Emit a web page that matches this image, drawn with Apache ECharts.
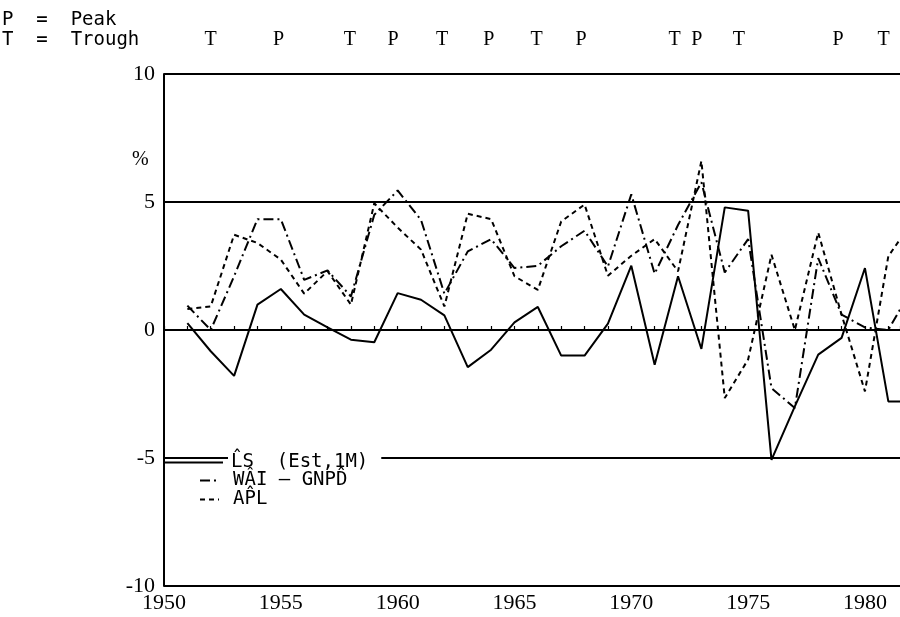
<!DOCTYPE html>
<html>
<head>
<meta charset="utf-8">
<script src="https://cdn.jsdelivr.net/npm/echarts@6/dist/echarts.min.js"></script>
<style>
  html, body { margin: 0; padding: 0; background: #fff; }
  #chart { width: 900px; height: 617px; }
</style>
</head>
<body>
<div id="chart"></div>
<script>
// ---- data ----
const years = [1951,1952,1953,1954,1955,1956,1957,1958,1959,1960,1961,1962,1963,1964,1965,1966,
               1967,1968,1969,1970,1971,1972,1973,1974,1975,1976,1977,1978,1979,1980,1981,1982];
const lsEst = [0.27,-0.83,-1.79,0.99,1.6,0.6,0.1,-0.38,-0.48,1.44,1.18,0.57,-1.45,-0.77,0.3,0.9,
               -1.0,-1.0,0.25,2.51,-1.36,2.1,-0.74,4.79,4.66,-5.07,-2.98,-0.96,-0.31,2.42,-2.79,-2.79];
const waiGnpd = [0.95,0.0,2.1,4.33,4.33,1.96,2.33,1.31,4.5,5.45,4.3,1.42,3.07,3.55,2.42,2.51,
                 3.27,3.88,2.48,5.3,2.2,4.1,5.77,2.25,3.55,-2.27,-3.05,2.81,0.6,0.1,0.0,1.6];
const apl = [0.82,0.92,3.72,3.4,2.75,1.42,2.3,0.99,4.95,4.0,3.14,0.92,4.54,4.33,2.1,1.57,
             4.24,4.9,2.12,2.9,3.55,2.29,6.6,-2.66,-1.15,2.94,0.0,3.81,0.6,-2.4,2.88,4.2];
const seriesNames = ['L\u0302S  (Est,1M)', 'WA\u0302I \u2014 GNPD\u0302', 'AP\u0302L'];
// business-cycle turning points shown along the top
const cycleYears = [1952.0,1954.9,1957.95,1959.8,1961.9,1963.9,1965.95,1967.85,1971.85,1972.8,1974.6,1978.85,1980.8];
const cycleMarks = ['T','P','T','P','T','P','T','P','T','P','T','P','T'];
const keyLines = ['P  =  Peak', 'T  =  Trough'];
const xTicks = [1950,1955,1960,1965,1970,1975,1980];
const yTicks = [-10,-5,0,5,10];

const pairs = arr => years.map((y, i) => [y, arr[i]]);
const serifFont = '"Liberation Serif", "DejaVu Serif", serif';
const monoFont = '"DejaVu Sans Mono", "Liberation Mono", monospace';

const chart = echarts.init(document.getElementById('chart'), null, { renderer: 'canvas' });

const legendBase = {
  orient: 'vertical', padding: 0, itemHeight: 14, selectedMode: false,
  itemStyle: { opacity: 0 },
  textStyle: { fontFamily: monoFont, fontSize: 19, color: '#000' }
};

chart.setOption({
  animation: false,
  backgroundColor: '#fff',
  grid: { left: 164, right: 0, top: 74, bottom: 31, containLabel: false },
  xAxis: {
    type: 'value', min: 1950, max: 1981.5, interval: 5,
    axisLine: { show: true, lineStyle: { color: '#000', width: 2 } },
    axisTick: { show: true, inside: true, length: 4, lineStyle: { color: '#000', width: 1.2 } },
    minorTick: { show: true, splitNumber: 5, length: 4, lineStyle: { color: '#000', width: 1.2 } },
    splitLine: { show: false },
    axisLabel: {
      color: '#000', fontFamily: serifFont, fontSize: 22, margin: 6,
      showMaxLabel: false,
      formatter: v => (xTicks.includes(v) ? String(v) : '')
    }
  },
  yAxis: {
    type: 'value', min: -10, max: 10, interval: 5,
    axisLine: { show: true, onZero: false, lineStyle: { color: '#000', width: 2 } },
    axisTick: { show: false },
    splitLine: { show: true, lineStyle: { color: '#000', width: 2 } },
    axisLabel: {
      color: '#000', fontFamily: serifFont, fontSize: 22, margin: 9,
      formatter: v => (yTicks.includes(v) ? String(v) : '')
    }
  },
  legend: [
    Object.assign({}, legendBase, {
      data: [seriesNames[0]], left: 163, top: 451, itemWidth: 59, itemGap: 0,
      textStyle: Object.assign({}, legendBase.textStyle, { backgroundColor: '#fff', padding: [2, 13, 2, 3] })
    }),
    Object.assign({}, legendBase, {
      data: [seriesNames[1]], left: 199, top: 471, itemWidth: 19,
      textStyle: Object.assign({}, legendBase.textStyle, { padding: [0, 0, 0, 9] })
    }),
    Object.assign({}, legendBase, {
      data: [seriesNames[2]], left: 199, top: 490, itemWidth: 19,
      textStyle: Object.assign({}, legendBase.textStyle, { padding: [0, 0, 0, 9] })
    })
  ],
  series: [
    { name: seriesNames[0], type: 'line', data: pairs(lsEst), symbol: 'none',
      lineStyle: { color: '#000', width: 2, type: 'solid' }, itemStyle: { color: '#000' }, z: 5 },
    { name: seriesNames[1], type: 'line', data: pairs(waiGnpd), symbol: 'none',
      lineStyle: { color: '#000', width: 2, type: [10, 4, 2, 4] }, itemStyle: { color: '#000' }, z: 4 },
    { name: seriesNames[2], type: 'line', data: pairs(apl), symbol: 'none',
      lineStyle: { color: '#000', width: 2, type: [5, 4] }, itemStyle: { color: '#000' }, z: 3 }
  ]
});

// top annotations: key + P/T markers positioned through the x scale
const graphics = [
  { type: 'text', x: 2, y: 20, style: { text: keyLines[0], font: '19px ' + monoFont, fill: '#000', verticalAlign: 'middle' } },
  { type: 'text', x: 2, y: 40, style: { text: keyLines[1], font: '19px ' + monoFont, fill: '#000', verticalAlign: 'middle' } },
  { type: 'text', x: 132, y: 160, style: { text: '%', font: '20px ' + serifFont, fill: '#000', verticalAlign: 'middle' } }
];
cycleYears.forEach((yr, i) => {
  const px = chart.convertToPixel({ xAxisIndex: 0 }, yr);
  graphics.push({
    type: 'text', x: px, y: 40,
    style: { text: cycleMarks[i], font: '20px ' + serifFont, fill: '#000', align: 'center', verticalAlign: 'middle' }
  });
});
chart.setOption({ graphic: graphics });
</script>
</body>
</html>
